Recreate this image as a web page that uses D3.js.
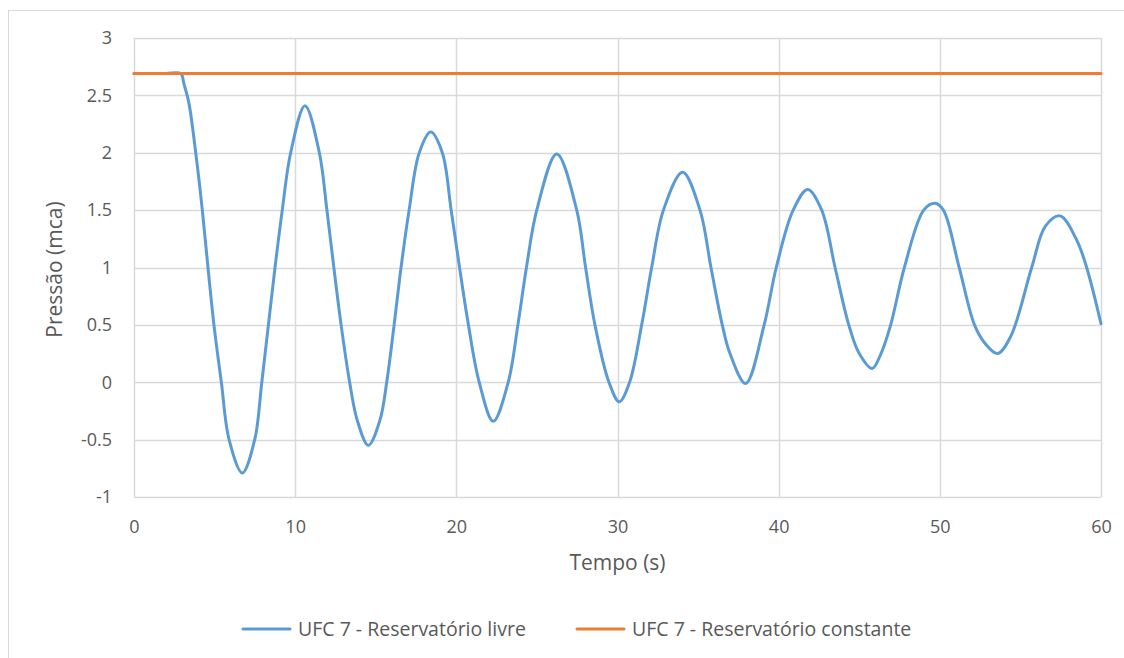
<!DOCTYPE html>
<html>
<head>
<meta charset="utf-8">
<script src="https://cdn.jsdelivr.net/npm/d3@7"></script>
<style>
  body { margin: 0; background: #fff; }
  svg text { font-family: "Open Sans", sans-serif; fill: #595959; }
</style>
</head>
<body>
<div id="chart"></div>
<script>
const width = 1124;
const height = 658;

// Tempo (s) e pressão (mca)
const tempo = [
  0, 1, 2, 2.9, 3.1, 3.41, 3.83, 4.24, 4.59, 4.96, 5.42, 5.9, 6.72,
  7.49, 7.93, 8.34, 8.75, 9.2, 9.72, 10.61,
  11.5, 11.97, 12.4, 12.85, 13.38, 13.85, 14.54,
  15.26, 15.68, 16.14, 16.57, 17.07, 17.7, 18.41,
  19.13, 19.68, 20.2, 20.75, 21.42, 22.29,
  23.22, 23.82, 24.35, 24.99, 26.23,
  27.47, 28.02, 28.6, 29.47, 30.11,
  30.75, 31.5, 32.12, 32.85, 34.04,
  35.12, 35.8, 36.5, 36.98, 37.95,
  39.1, 39.85, 40.9, 41.8,
  42.67, 43.5, 44.35, 45.0, 45.8,
  46.35, 46.95, 47.8, 49.0, 49.7,
  50.22, 51.2, 52.15, 52.8, 53.59,
  54.4, 55.7, 56.55, 57.46,
  58.49, 59.11, 60
];
const livre = [
  2.69, 2.69, 2.69, 2.69, 2.6, 2.43, 2.0, 1.5, 1.0, 0.5, 0.0, -0.5, -0.79,
  -0.5, 0.0, 0.5, 1.0, 1.5, 2.0, 2.41,
  2.0, 1.5, 1.0, 0.5, 0.0, -0.33, -0.55,
  -0.33, 0.0, 0.5, 1.0, 1.5, 2.0, 2.18,
  2.0, 1.5, 1.0, 0.5, 0.0, -0.34,
  0.0, 0.5, 1.0, 1.5, 1.99,
  1.5, 1.0, 0.5, 0.0, -0.17,
  0.0, 0.5, 1.0, 1.5, 1.83,
  1.5, 1.0, 0.5, 0.25, -0.01,
  0.5, 1.0, 1.5, 1.68,
  1.5, 1.0, 0.5, 0.25, 0.12,
  0.25, 0.5, 1.0, 1.5, 1.56,
  1.5, 1.0, 0.5, 0.34, 0.25,
  0.4, 1.0, 1.36, 1.45,
  1.24, 1.0, 0.51
];
const tempoConst = [0, 60];
const constante = [2.69, 2.69];

const xTicks = [0, 10, 20, 30, 40, 50, 60];
const yTicks = [-1, -0.5, 0, 0.5, 1, 1.5, 2, 2.5, 3];

const series = [
  { name: "UFC 7 - Reservatório livre", color: "#5b9bd5",
    values: tempo.map((t, i) => ({ t: t, v: livre[i] })) },
  { name: "UFC 7 - Reservatório constante", color: "#ed7d31",
    values: tempoConst.map((t, i) => ({ t: t, v: constante[i] })) }
];

const plot = { left: 134, right: 1101, top: 38, bottom: 497 };

const svg = d3.select("#chart")
  .append("svg")
  .attr("width", width)
  .attr("height", height);

// moldura
svg.append("rect")
  .attr("x", 8.5).attr("y", 10.5)
  .attr("width", width).attr("height", height)
  .attr("fill", "none")
  .attr("stroke", "#d9d9d9");

const x = d3.scaleLinear().domain([0, 60]).range([plot.left, plot.right]);
const y = d3.scaleLinear().domain([-1, 3]).range([plot.bottom, plot.top]);

// grade
svg.append("g")
  .selectAll("line.h")
  .data(yTicks)
  .join("line")
  .attr("x1", plot.left).attr("x2", plot.right)
  .attr("y1", d => Math.round(y(d)) + 0.5)
  .attr("y2", d => Math.round(y(d)) + 0.5)
  .attr("stroke", "#d9d9d9")
  .attr("stroke-width", 1.5);

svg.append("g")
  .selectAll("line.v")
  .data(xTicks)
  .join("line")
  .attr("y1", plot.top).attr("y2", plot.bottom)
  .attr("x1", d => Math.round(x(d)) + 0.5)
  .attr("x2", d => Math.round(x(d)) + 0.5)
  .attr("stroke", "#d9d9d9")
  .attr("stroke-width", 1.5);

// eixos (só rótulos)
const xAxis = svg.append("g")
  .attr("transform", `translate(0,${plot.bottom})`)
  .call(d3.axisBottom(x).tickValues(xTicks).tickSize(0).tickPadding(23).tickFormat(d3.format("d")));
const yAxis = svg.append("g")
  .attr("transform", `translate(${plot.left},0)`)
  .call(d3.axisLeft(y).tickValues(yTicks).tickSize(0).tickPadding(22).tickFormat(d => String(d)));

[xAxis, yAxis].forEach(a => {
  a.select(".domain").remove();
  a.selectAll("text")
    .attr("fill", "#595959")
    .style("font-family", "'Open Sans', sans-serif")
    .style("font-size", "18px");
});

// linhas
const line = d3.line()
  .x(d => x(d.t))
  .y(d => y(d.v))
  .curve(d3.curveCatmullRom.alpha(0.5));

svg.append("g")
  .selectAll("path")
  .data(series)
  .join("path")
  .attr("d", d => line(d.values))
  .attr("fill", "none")
  .attr("stroke", d => d.color)
  .attr("stroke-width", 3)
  .attr("stroke-linejoin", "round")
  .attr("stroke-linecap", "round");

// títulos
svg.append("text")
  .attr("x", (plot.left + plot.right) / 2)
  .attr("y", 570)
  .attr("text-anchor", "middle")
  .style("font-size", "21px")
  .text("Tempo (s)");

svg.append("text")
  .attr("transform", `translate(62,${(plot.top + plot.bottom) / 2 + 2}) rotate(-90)`)
  .attr("text-anchor", "middle")
  .style("font-size", "21px")
  .text("Pressão (mca)");

// legenda
const legendX = [243, 577];
const legend = svg.append("g")
  .selectAll("g")
  .data(series)
  .join("g")
  .attr("transform", (d, i) => `translate(${legendX[i]},629)`);

legend.append("line")
  .attr("x1", 0).attr("x2", 47)
  .attr("stroke", d => d.color)
  .attr("stroke-width", 3)
  .attr("stroke-linecap", "round");

legend.append("text")
  .attr("x", 55)
  .attr("dy", "0.35em")
  .style("font-size", "19.5px")
  .text(d => d.name);
</script>
</body>
</html>
